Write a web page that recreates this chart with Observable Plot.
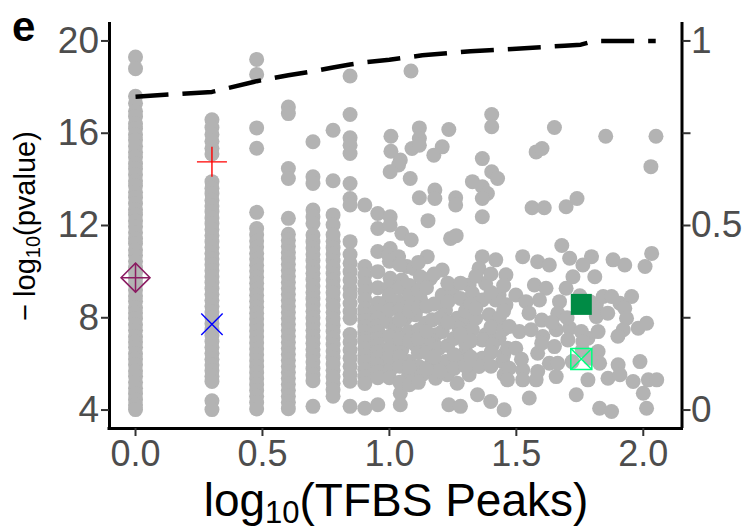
<!DOCTYPE html>
<html>
<head>
<meta charset="utf-8">
<script src="https://cdn.jsdelivr.net/npm/d3@7"></script>
<script src="https://cdn.jsdelivr.net/npm/@observablehq/plot@0.6"></script>
<style>
  html, body { margin: 0; padding: 0; background: #ffffff; }
  #chart svg { display: block; }
  g[aria-label$="tick label"] { fill: #4d4d4d; }
</style>
</head>
<body>
<div id="chart"></div>
<script>
// ---------- data ----------
// dense columns: TFBS peak counts 1..9 with their -log10(pvalue) values
const columnPeaks = [1, 2, 3, 4, 5, 6, 7, 8, 9];
const col1 = [19.3, 18.8, 17.6, 17.3, 16.95, 16.72, 16.41, 16.2, 15.93, 15.71, 15.44, 15.18, 14.97, 14.68, 14.46, 14.2, 13.93, 13.72, 13.44, 13.21, 12.95, 12.68, 12.47, 12.2, 11.96, 11.7, 11.43, 11.22, 10.94, 10.71, 10.45, 10.18, 9.96, 9.69, 9.47, 9.2, 8.94, 8.72, 8.43, 8.21, 7.97, 7.7, 7.46, 7.18, 6.95, 6.72, 6.44, 6.21, 5.96, 5.69, 5.47, 5.2, 4.95, 4.71, 4.45, 4.22, 4.02];
const col2 = [16.58, 16.25, 15.95, 15.65, 15.35, 15.1, 13.9, 13.62, 13.38, 13.1, 12.84, 12.6, 12.33, 12.08, 11.83, 11.57, 11.3, 11.06, 10.8, 10.55, 10.3, 10.04, 9.78, 9.53, 9.27, 9.02, 8.76, 8.5, 8.25, 8.0, 7.74, 7.49, 7.23, 6.97, 6.72, 6.46, 6.2, 5.95, 5.7, 5.46, 5.24, 4.4, 4.02];
const col3 = [19.2, 18.55, 16.23, 15.35, 12.57, 11.87, 11.6, 11.33, 11.07, 10.8, 10.55, 10.28, 10.03, 9.76, 9.5, 9.25, 8.98, 8.72, 8.46, 8.2, 7.95, 7.69, 7.43, 7.17, 6.91, 6.65, 6.4, 6.14, 5.88, 5.62, 5.36, 5.1, 4.85, 4.6, 4.33, 4.05];
const col4 = [17.14, 16.85, 14.47, 14.04, 12.31, 11.62, 11.36, 11.1, 10.84, 10.58, 10.32, 10.06, 9.8, 9.54, 9.28, 9.02, 8.76, 8.5, 8.24, 7.98, 7.72, 7.46, 7.2, 6.94, 6.68, 6.42, 6.16, 5.9, 5.64, 5.38, 5.12, 4.86, 4.6, 4.34, 4.06];
const col5 = [15.63, 14.11, 13.82, 12.67, 12.38, 12.09, 11.59, 11.3, 11.02, 10.75, 10.48, 10.2, 9.93, 9.66, 9.38, 9.1, 8.83, 8.56, 8.28, 8.0, 7.73, 7.46, 7.18, 6.9, 6.63, 6.36, 6.08, 5.8, 5.53, 5.27, 4.16];
const col6 = [16.13, 13.94, 12.46, 12.03, 11.6, 11.32, 11.04, 10.76, 10.48, 10.2, 9.92, 9.64, 9.36, 9.08, 8.8, 8.52, 8.24, 7.96, 7.68, 7.4, 7.12, 6.84, 6.56, 6.28, 6.0, 5.72, 5.44, 5.16, 4.88, 4.6];
const col7 = [18.48, 16.81, 15.8, 15.48, 15.12, 13.82, 13.17, 12.89, 11.3, 10.74, 10.36, 10.0, 9.64, 9.28, 8.99, 8.62, 8.27, 7.98, 7.27, 6.95, 6.6, 6.25, 5.9, 5.55, 5.25, 4.16];
const col8 = [12.89, 10.22, 9.85, 9.49, 9.15, 8.8, 8.41, 8.15, 7.88, 7.62, 7.38, 7.1, 6.97, 6.68, 6.38, 6.1, 5.77, 5.45, 5.15, 4.08];
const col9 = [12.52, 11.87, 10.87, 10.0, 9.3, 8.63, 8.3, 7.98, 7.66, 7.4, 7.1, 6.83, 6.54, 6.25, 5.95, 5.67, 5.4, 4.23];
const columnValues = [col1, col2, col3, col4, col5, col6, col7, col8, col9];

// scattered points beyond 10 peaks: [log10(TFBS Peaks), -log10(pvalue)]
const scatter = [
  [1.006, 15.87], [1.006, 15.22], [1.043, 14.84], [1.036, 14.62], [1.089, 15.34], [1.118, 16.23], [1.118, 15.77], [1.118, 15.48],
  [1.175, 15.05], [1.208, 15.41], [1.234, 16.16], [1.003, 14.33], [1.082, 14.04], [1.118, 13.2], [1.179, 13.54], [1.179, 13.17],
  [1.261, 13.2], [1.261, 12.89], [1.403, 16.81], [1.403, 16.28], [1.366, 14.9], [1.403, 14.33], [1.426, 14.04], [1.327, 13.9],
  [1.366, 13.68], [1.386, 13.39], [1.366, 13.17], [1.366, 12.38], [1.152, 12.21], [1.241, 11.44], [1.263, 11.56], [1.003, 12.38],
  [1.003, 12.02], [1.049, 11.66], [1.086, 11.37], [1.003, 11.0], [1.085, 18.7],
  [1.65, 16.25], [1.578, 15.19], [1.601, 15.34], [1.852, 15.87], [2.05, 15.87], [2.03, 14.55], [1.562, 12.77], [1.61, 12.77],
  [1.696, 12.81], [1.739, 13.17], [1.679, 11.13], [1.796, 10.65],
  [0.997, 10.72], [1.036, 10.65], [1.069, 10.22], [1.096, 10.14], [1.149, 10.65], [1.208, 10.07], [1.366, 10.65], [1.419, 10.51],
  [1.353, 10.14], [1.459, 9.86],
  [1.003, 9.71], [1.049, 9.64], [1.122, 9.78], [1.162, 9.71], [1.314, 9.42], [1.379, 9.49], [1.432, 8.99],
  [0.99, 8.7], [1.036, 8.7], [1.089, 8.7], [1.122, 8.84], [1.208, 8.99], [1.248, 9.13], [1.28, 8.84], [1.327, 9.06], [1.366, 8.77],
  [1.419, 8.77], [1.459, 8.56],
  [0.99, 7.84], [1.063, 7.98], [1.102, 8.13], [1.142, 7.76], [1.168, 7.91], [1.221, 8.34], [1.267, 7.98], [1.3, 7.84], [1.34, 7.98],
  [1.393, 8.13], [1.432, 7.98],
  [1.023, 7.55], [1.076, 7.4], [1.116, 7.48], [1.182, 7.26], [1.208, 7.4], [1.274, 7.55], [1.327, 7.48], [1.379, 7.26], [1.432, 7.11],
  [1.01, 6.97], [1.049, 6.61], [1.102, 6.83], [1.155, 6.9], [1.195, 6.68], [1.3, 6.54], [1.366, 7.04], [1.406, 6.83],
  [1.003, 5.96], [1.076, 6.1], [1.116, 5.89], [1.168, 6.1], [1.221, 6.1], [1.274, 6.1], [1.327, 5.96], [1.366, 6.25], [1.446, 6.1],
  [1.003, 5.74], [1.076, 5.53], [1.129, 5.53], [1.182, 5.38], [1.228, 5.53], [1.267, 5.16], [1.314, 5.53], [1.353, 5.89], [1.452, 5.53],
  [1.043, 4.73], [1.043, 4.23], [1.234, 4.23], [1.28, 4.16], [1.347, 4.66], [1.399, 4.37], [1.452, 4.01],
  [1.0, 10.45], [1.0, 9.35], [1.0, 9.0], [1.0, 8.35], [1.0, 7.2], [1.0, 6.6], [1.0, 6.3], [1.0, 5.4],
  [1.041, 10.3], [1.041, 9.3], [1.041, 8.35], [1.041, 7.9], [1.041, 7.1], [1.041, 6.3], [1.041, 5.9], [1.041, 5.2],
  [1.079, 9.4], [1.079, 9.0], [1.079, 8.3], [1.079, 7.0], [1.079, 5.85], [1.079, 5.1],
  [1.114, 10.4], [1.114, 9.2], [1.114, 8.45], [1.114, 7.1], [1.114, 6.5], [1.114, 5.2],
  [1.146, 9.3], [1.146, 8.5], [1.146, 7.4], [1.146, 6.5], [1.146, 5.8], [1.176, 9.9], [1.176, 8.6], [1.176, 6.3],
  [1.2, 8.0], [1.2, 5.7], [1.23, 9.5], [1.23, 8.7], [1.23, 7.8], [1.23, 6.8], [1.255, 7.1], [1.255, 6.4], [1.255, 5.8],
  [1.28, 9.5], [1.28, 7.3], [1.3, 8.3], [1.3, 6.9], [1.3, 5.9], [1.32, 8.6], [1.32, 7.0], [1.32, 6.3], [1.34, 9.8], [1.34, 8.4],
  [1.4, 9.9], [1.4, 9.1], [1.4, 7.6], [1.4, 6.5], [1.4, 5.9], [1.45, 9.4], [1.45, 8.3], [1.45, 7.5], [1.45, 6.4],
  [1.525, 10.65], [1.584, 10.43], [1.63, 10.29], [1.71, 10.58], [1.762, 10.29], [1.809, 9.78], [1.723, 9.78], [1.881, 10.51],
  [1.927, 10.29], [2.007, 10.22], [2.033, 10.79],
  [1.571, 9.42], [1.617, 9.28], [1.696, 9.28], [1.498, 8.99], [1.538, 8.7], [1.591, 8.77], [1.67, 8.7], [1.663, 8.19],
  [1.815, 8.56], [1.842, 8.92], [1.875, 8.92], [1.908, 8.63], [1.954, 8.92], [1.927, 8.41], [1.815, 8.05], [1.934, 7.98],
  [1.472, 7.62], [1.512, 7.4], [1.558, 7.48], [1.604, 7.19], [1.657, 7.48], [1.71, 7.55], [1.756, 7.4], [1.782, 7.11],
  [1.822, 7.4], [1.921, 7.48], [1.98, 7.55], [2.013, 7.76],
  [1.465, 6.68], [1.498, 6.68], [1.584, 6.46], [1.65, 6.75], [1.703, 7.04], [1.762, 6.97], [1.822, 6.54], [1.828, 6.03],
  [1.901, 5.96], [1.987, 6.1],
  [1.472, 5.81], [1.525, 5.74], [1.584, 5.67], [1.63, 6.03], [1.663, 6.03], [1.782, 5.31], [1.657, 5.45], [1.578, 5.31],
  [1.465, 5.31], [1.525, 5.31], [1.861, 5.38], [1.908, 5.53], [1.96, 5.24], [2.02, 5.31], [2.053, 5.31],
  [2.0, 4.73], [1.736, 4.66], [1.551, 4.52], [1.828, 4.08], [1.875, 3.94], [2.013, 4.08],
  [1.55, 8.2], [1.6, 7.9], [1.64, 7.8], [1.7, 8.0], [1.75, 8.95], [1.79, 8.7], [1.76, 6.6], [1.79, 6.25], [1.86, 8.2],
  [1.9, 7.2], [1.72, 6.1], [1.52, 6.2], [1.6, 6.9]
];

// dashed line (right axis, 0..1)
const lineX = [0, 0.301, 0.477, 0.602, 0.699, 0.778, 0.845, 0.903, 1.0, 1.13, 1.32, 1.5, 1.69, 1.754, 1.806, 2.049];
const lineV = [0.849, 0.862, 0.891, 0.907, 0.918, 0.928, 0.936, 0.942, 0.949, 0.961, 0.972, 0.979, 0.987, 0.990, 1.0, 1.0];

// highlighted factors
const highlightPeaks = [1, 2, 2, 57, 57];
const highlightP = [9.74, 14.76, 7.72, 8.58, 6.21];

// axes
const xTicks = [0, 0.5, 1, 1.5, 2];
const yTicks = [4, 8, 12, 16, 20];
const rightTicks = [0, 0.25, 0.5, 0.75, 1];
const rightLabels = ["0", "", "0.5", "", "1"];

const panelLabel = "e";

// ---------- build ----------
const FONT = "'Liberation Sans', Arial, Helvetica, sans-serif";
const secToPrim = v => 4 + 16 * v;   // secondary axis: primary = 4 + 16 * secondary

const points = [];
columnPeaks.forEach((n, i) => columnValues[i].forEach(y => points.push({x: Math.log10(n), y})));
scatter.forEach(([x, y]) => points.push({x, y}));

const lineData = lineX.map((x, i) => ({x, y: secToPrim(lineV[i])}));
const hl = i => [{x: Math.log10(highlightPeaks[i]), y: highlightP[i]}];

const xDom = [-0.1025, 2.1525];
const yDom = [3.2, 20.8];

const plot = Plot.plot({
  width: 750,
  height: 529,
  marginLeft: 109,
  marginRight: 68.5,
  marginTop: 22,
  marginBottom: 101,
  style: {fontFamily: FONT, background: "#ffffff"},
  x: {domain: xDom, axis: null},
  y: {domain: yDom, axis: null},
  marks: [
    Plot.dot(points, {x: "x", y: "y", r: 7.5, fill: "#b3b3b3", stroke: "none"}),
    Plot.line(lineData, {x: "x", y: "y", stroke: "#000", strokeWidth: 4.5, strokeDasharray: "33,14", strokeLinecap: "butt"}),
    Plot.dot(hl(0), {x: "x", y: "y", symbol: "diamond2", r: 13.06, stroke: "#8B1C62", strokeWidth: 1.5, fill: "none"}),
    Plot.dot(hl(0), {x: "x", y: "y", symbol: "plus", r: 9.38, stroke: "#8B1C62", strokeWidth: 1.5}),
    Plot.dot(hl(1), {x: "x", y: "y", symbol: "plus", r: 9.7, stroke: "#FF0000", strokeWidth: 1.4}),
    Plot.dot(hl(2), {x: "x", y: "y", symbol: "times", r: 9.78, stroke: "#0000FF", strokeWidth: 1.4}),
    Plot.dot(hl(3), {x: "x", y: "y", symbol: "square", r: 11.85, fill: "#008B45", stroke: "none"}),
    Plot.dot(hl(4), {x: "x", y: "y", symbol: "square2", r: 13.37, stroke: "#00FF7F", strokeWidth: 1.5, fill: "none"}),
    Plot.dot(hl(4), {x: "x", y: "y", symbol: "times", r: 9.6, stroke: "#00FF7F", strokeWidth: 1.5}),
    Plot.ruleX([xDom[0]], {stroke: "#000", strokeWidth: 3}),
    Plot.ruleX([xDom[1]], {stroke: "#000", strokeWidth: 3}),
    Plot.ruleY([yDom[0]], {stroke: "#000", strokeWidth: 3, strokeLinecap: "square"}),
    Plot.axisX({ticks: xTicks, tickFormat: d3.format(".1f"), tickSize: 8, tickPadding: 3.5, fontSize: 36, label: null, stroke: "#333333", strokeWidth: 2}),
    Plot.axisY({anchor: "left", ticks: yTicks, tickFormat: d => String(d), tickSize: 8, tickPadding: 2.5, fontSize: 37, label: null, stroke: "#333333", strokeWidth: 2}),
    Plot.axisY({anchor: "right", ticks: rightTicks.map(secToPrim), tickFormat: (d, i) => rightLabels[i], tickSize: 8, tickPadding: 1, fontSize: 37, label: null, stroke: "#333333", strokeWidth: 2})
  ]
});

document.getElementById("chart").appendChild(plot);

const svg = d3.select(plot);

// x title: log10(TFBS Peaks)
const xt = svg.append("text")
  .attr("transform", "translate(396,516)")
  .attr("text-anchor", "middle")
  .attr("font-family", FONT)
  .attr("font-size", 46)
  .attr("fill", "#000");
xt.append("tspan").text("log");
xt.append("tspan").attr("font-size", 31).attr("dy", 7).text("10");
xt.append("tspan").attr("dy", -7).text("(TFBS Peaks)");

// y title: -log10(pvalue)
const yt = svg.append("text")
  .attr("transform", "translate(35,226) rotate(-90)")
  .attr("text-anchor", "middle")
  .attr("font-family", FONT)
  .attr("font-size", 29)
  .attr("fill", "#000");
yt.append("tspan").text("\u2212");
yt.append("tspan").attr("dx", 7).text("log");
yt.append("tspan").attr("font-size", 20).attr("dy", 5).text("10");
yt.append("tspan").attr("dy", -5).text("(pvalue)");

// panel label
svg.append("text")
  .attr("x", 12).attr("y", 41)
  .attr("text-anchor", "start")
  .attr("font-family", FONT)
  .attr("font-size", 42)
  .attr("font-weight", "bold")
  .attr("fill", "#000")
  .text(panelLabel);
</script>
</body>
</html>
